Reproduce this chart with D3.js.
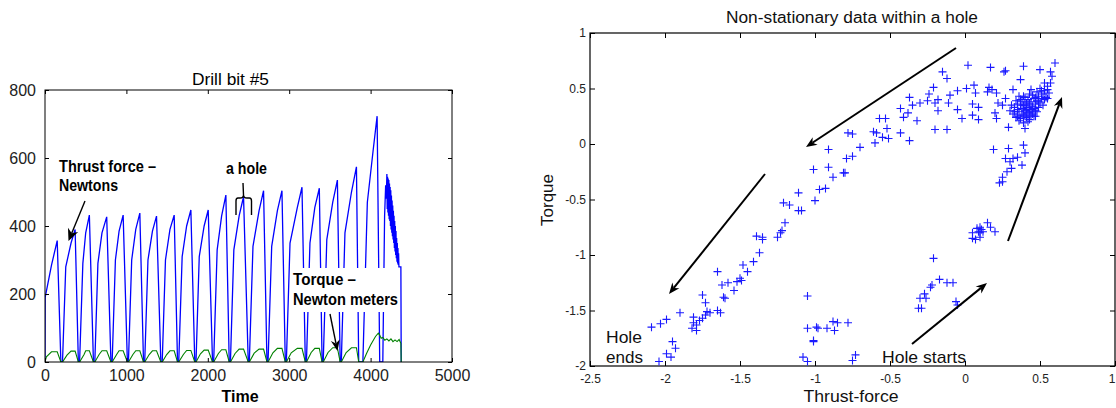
<!DOCTYPE html>
<html><head><meta charset="utf-8">
<script src="https://cdn.jsdelivr.net/npm/d3@7"></script>
<style>body{margin:0;background:#fff;} svg{display:block;font-family:"Liberation Sans",Arial,sans-serif;}</style>
</head><body><svg id="c" width="1116" height="408"></svg>
<script>
// ---------- Left chart data (Drill bit #5) ----------
const timeTicks = [0, 1000, 2000, 3000, 4000, 5000];
const forceTicks = [0, 200, 400, 600, 800];
// per-hole key readings of thrust force (Newtons)
const cycleStart = [0, 215, 425, 612, 825, 1025, 1225, 1440, 1643, 1855, 2072, 2278, 2510, 2740, 2965, 3212, 3418, 3640, 3905];
const cycleKneeT = [2, 255, 465, 650, 865, 1065, 1265, 1480, 1685, 1895, 2115, 2320, 2555, 2785, 3010, 3255, 3462, 3685, 3960];
const cycleKneeV = [190, 280, 290, 290, 300, 300, 300, 300, 310, 310, 330, 330, 340, 340, 350, 350, 360, 380, 470];
const cycleMidT  = [80, 320, 500, 700, 910, 1115, 1320, 1535, 1740, 1955, 2170, 2385, 2630, 2855, 3100, 3315, 3535, 3765, 4030];
const cycleMidV  = [285, 350, 380, 380, 385, 390, 385, 390, 400, 400, 430, 430, 445, 445, 455, 455, 470, 500, 620];
const cyclePeakT = [150, 370, 545, 758, 960, 1165, 1370, 1587, 1792, 2005, 2222, 2439, 2685, 2911, 3157, 3370, 3592, 3826, 4080];
const cyclePeakV = [357, 390, 432, 427, 432, 438, 429, 432, 447, 447, 491, 486, 504, 504, 514, 511, 535, 574, 723];
const cycleEnd   = [195, 410, 595, 810, 1012, 1210, 1423, 1628, 1840, 2058, 2263, 2497, 2727, 2952, 3198, 3404, 3626, 3854, 4112];
// last (noisy) hole
const thrustTailT = [4150, 4172, 4185, 4193, 4200, 4204, 4208, 4212, 4216, 4220, 4224, 4228, 4232, 4236, 4240, 4244, 4248, 4252, 4256, 4260, 4264, 4268, 4272, 4276, 4280, 4284, 4288, 4292, 4296, 4300, 4304, 4308, 4312, 4316, 4320, 4324, 4328, 4332, 4336, 4340, 4344, 4348, 4372, 4376];
const thrustTailV = [0, 430, 520, 480, 553, 450, 545, 440, 540, 430, 535, 420, 525, 415, 515, 400, 505, 390, 490, 380, 475, 370, 460, 360, 445, 350, 430, 335, 415, 325, 400, 315, 385, 305, 365, 295, 350, 290, 335, 285, 320, 280, 280, 0];
// torque (Newton meters) per hole
const torqueLow  = [15, 20, 22, 22, 22, 22, 22, 22, 22, 24, 25, 25, 26, 27, 27, 28, 28, 28];
const torqueHigh = [30, 32, 33, 33, 33, 33, 33, 33, 34, 35, 36, 38, 38, 40, 40, 40, 42, 42];
const torqueTailT = [3905, 3950, 4000, 4060, 4095, 4110, 4130, 4150, 4175, 4200, 4225, 4250, 4275, 4300, 4325, 4350, 4372, 4376];
const torqueTailV = [0, 25, 50, 75, 85, 80, 70, 72, 64, 68, 62, 68, 60, 65, 60, 66, 55, 0];

// ---------- Right chart data (thrust-force vs torque) ----------
const xTicksR = [-2.5, -2, -1.5, -1, -0.5, 0, 0.5, 1];
const yTicksR = [-2, -1.5, -1, -0.5, 0, 0.5, 1];
const scatterPoints = [
 [-2.09,-1.65],[-2.03,-1.62],[-1.99,-1.58],[-1.90,-1.52],[-1.95,-1.78],[-1.93,-1.84],[-1.99,-1.89],[-1.96,-1.92],[-2.04,-1.96],
 [-1.81,-1.56],[-1.81,-1.61],[-1.82,-1.66],[-1.79,-1.68],[-1.79,-1.63],[-1.77,-1.59],[-1.75,-1.57],[-1.73,-1.54],[-1.75,-1.36],
 [-1.73,-1.43],[-1.72,-1.51],[-1.70,-1.52],[-1.65,-1.50],[-1.63,-1.52],[-1.65,-1.15],[-1.62,-1.27],[-1.61,-1.38],[-1.60,-1.39],
 [-1.58,-1.25],[-1.54,-1.32],[-1.52,-1.24],[-1.50,-1.21],[-1.49,-1.23],[-1.48,-1.09],[-1.45,-1.15],[-1.41,-1.06],[-1.37,-0.98],
 [-1.39,-0.83],[-1.35,-0.84],[-1.35,-0.86],[-1.25,-0.84],[-1.23,-0.80],[-1.22,-0.78],[-1.20,-0.71],[-1.21,-0.53],[-1.17,-0.55],
 [-1.11,-0.44],[-1.11,-0.60],[-1.09,-0.60],[-1.00,-0.51],[-0.97,-0.41],[-0.93,-0.40],[-1.01,-0.23],[-0.91,-0.21],[-0.91,-0.05],
 [-0.88,-0.30],[-0.81,-0.26],[-0.80,-0.26],[-0.79,-0.13],[-0.78,0.10],
 [-1.05,-1.37],[-1.05,-1.66],[-0.99,-1.65],[-0.98,-1.66],[-1.01,-1.77],[-1.01,-1.78],[-0.92,-1.66],[-0.88,-1.60],[-0.87,-1.68],
 [-0.85,-1.61],[-0.78,-1.61],[-1.08,-1.92],[-1.05,-1.96],
 [-0.75,0.09],[-0.75,-0.11],[-0.70,-0.03],[-0.60,0.01],[-0.61,0.11],[-0.59,0.10],[-0.55,0.06],[-0.51,0.05],[-0.52,0.14],
 [-0.57,0.23],[-0.53,0.23],[-0.43,0.10],[-0.37,0.03],[-0.43,0.32],[-0.41,0.24],[-0.38,0.28],[-0.37,0.42],[-0.35,0.35],
 [-0.32,0.21],[-0.30,0.37],[-0.25,0.39],[-0.24,0.45],[-0.21,0.51],[-0.20,0.37],[-0.18,0.40],[-0.18,0.30],[-0.20,0.13],
 [-0.15,0.65],[-0.12,0.59],[-0.12,0.13],[-0.11,0.37],[-0.10,0.44],[-0.05,0.48],[-0.05,0.31],[-0.02,0.23],[0.01,0.50],
 [0.02,0.71],[0.06,0.53],[0.07,0.46],[0.05,0.36],[0.05,0.26],[0.09,0.33],[0.09,0.22],[0.15,0.47],[0.17,0.69],[0.16,0.51],
 [0.18,0.49],[0.21,0.46],[0.20,0.28],[0.21,0.23],[0.22,0.37],[0.25,0.35],[0.26,0.65],[0.27,0.66],[0.27,0.41],[0.29,0.15],
 [0.32,0.49],[0.37,0.58],[0.39,0.70],[0.40,0.14],[0.50,0.67],[0.53,0.55],[0.57,0.65],[0.60,0.73],[0.58,0.61],[0.55,0.49],[0.55,0.41],
 [0.30,0.30],[0.32,0.27],[0.33,0.33],[0.34,0.24],[0.35,0.36],[0.36,0.29],[0.36,0.21],[0.37,0.40],[0.38,0.32],[0.38,0.26],
 [0.39,0.35],[0.39,0.19],[0.40,0.30],[0.40,0.42],[0.41,0.24],[0.41,0.37],[0.42,0.28],[0.42,0.33],[0.43,0.45],[0.43,0.22],
 [0.44,0.31],[0.44,0.38],[0.45,0.27],[0.45,0.34],[0.46,0.41],[0.46,0.25],[0.47,0.36],[0.47,0.30],[0.48,0.47],[0.48,0.39],
 [0.49,0.33],[0.49,0.43],[0.50,0.37],[0.50,0.50],[0.51,0.41],[0.52,0.45],[0.52,0.35],[0.53,0.48],[0.54,0.42],[0.55,0.52],
 [0.56,0.46],[0.57,0.55],[0.35,0.31],[0.37,0.35],[0.39,0.27],[0.41,0.31],[0.43,0.36],[0.44,0.26],[0.46,0.32],[0.48,0.29],
 [0.40,0.35],[0.42,0.40],[0.38,0.38],[0.45,0.44],[0.47,0.42],[0.33,0.29],[0.31,0.35],[0.36,0.43],[0.34,0.39],[0.49,0.38],
 [0.51,0.48],[0.44,0.49],[0.40,0.25],[0.37,0.23],[0.42,0.20],[0.47,0.25],[0.35,0.25],[0.43,0.29],[0.39,0.43],[0.53,0.40],
 [0.19,-0.05],[0.29,-0.04],[0.39,-0.01],[0.40,-0.08],[0.35,-0.12],[0.32,-0.13],[0.27,-0.13],[0.30,-0.16],[0.31,-0.22],
 [0.38,-0.19],[0.28,-0.25],[0.25,-0.30],[0.25,-0.34],[0.23,-0.35],
 [0.08,-0.76],[0.10,-0.75],[0.15,-0.71],[0.17,-0.75],[0.20,-0.79],[0.05,-0.80],[0.10,-0.80],[0.12,-0.79],[0.05,-0.85],
 [0.07,-0.86],[0.10,-0.84],[0.11,-0.77],[0.09,-0.79],
 [-0.21,-1.03],[-0.17,-1.22],[-0.22,-1.27],[-0.23,-1.29],[-0.12,-1.25],[-0.08,-1.25],[-0.27,-1.35],[-0.30,-1.39],[-0.26,-1.39],
 [-0.31,-1.48],[-0.29,-1.48],[-0.06,-1.42],[-0.05,-1.45],[-0.73,-1.90],[-0.75,-1.95]
];

// ---------- Build ----------
const svg = d3.select("#c");
const FONT = '"Liberation Sans",Arial,sans-serif';

function arrow(g, x1, y1, x2, y2, sw, hl, hw) {
  const dx = x2 - x1, dy = y2 - y1, L = Math.hypot(dx, dy);
  const ux = dx / L, uy = dy / L, px = -uy, py = ux;
  const bx = x2 - ux * hl, by = y2 - uy * hl;
  const nx = x2 - ux * hl * 0.7, ny = y2 - uy * hl * 0.7;
  g.append("line").attr("x1", x1).attr("y1", y1).attr("x2", nx).attr("y2", ny)
    .attr("stroke", "#000").attr("stroke-width", sw);
  g.append("path").attr("d", `M${x2},${y2}L${bx + px * hw},${by + py * hw}L${nx},${ny}L${bx - px * hw},${by - py * hw}Z`)
    .attr("fill", "#000");
}

// ===== Left chart =====
const L = {l: 45, r: 452, t: 90, b: 362};
const x = d3.scaleLinear().domain([0, 5000]).range([L.l, L.r]);
const y = d3.scaleLinear().domain([0, 800]).range([L.b, L.t]);
const gl = svg.append("g");
gl.append("clipPath").attr("id", "clipL").append("rect")
  .attr("x", L.l).attr("y", L.t).attr("width", L.r - L.l).attr("height", L.b - L.t);

const thrust = [];
const torque = [];
for (let i = 0; i < cycleStart.length; i++) {
  thrust.push([cycleStart[i], 0], [cycleKneeT[i], cycleKneeV[i]], [cycleMidT[i], cycleMidV[i]],
              [cyclePeakT[i], cyclePeakV[i]], [cycleEnd[i], 0]);
  if (i < torqueLow.length) {
    torque.push([cycleStart[i], 0], [cycleKneeT[i] + 15, torqueLow[i]], [cycleMidT[i], torqueHigh[i]],
                [cyclePeakT[i], torqueHigh[i]], [cycleEnd[i], 0]);
  }
}
thrustTailT.forEach((t, i) => thrust.push([t, thrustTailV[i]]));
torqueTailT.forEach((t, i) => torque.push([t, torqueTailV[i]]));

const line = d3.line().x(d => x(d[0])).y(d => y(d[1]));
const plotL = gl.append("g").attr("clip-path", "url(#clipL)");
plotL.append("path").datum(thrust).attr("d", line).attr("fill", "none").attr("stroke", "#0000ff").attr("stroke-width", 1.3);
plotL.append("path").datum(torque).attr("d", line).attr("fill", "none").attr("stroke", "#008000").attr("stroke-width", 1.1);

// axes (inward ticks all sides)
const axL = gl.append("g").attr("transform", `translate(${L.l},0)`)
  .call(d3.axisLeft(y).tickValues(forceTicks).tickSize(-4).tickPadding(9).tickFormat(d3.format("d")));
const axB = gl.append("g").attr("transform", `translate(0,${L.b})`)
  .call(d3.axisBottom(x).tickValues(timeTicks).tickSize(-4).tickPadding(8).tickFormat(d3.format("d")));
gl.append("g").attr("transform", `translate(${L.r},0)`)
  .call(d3.axisRight(y).tickValues(forceTicks).tickSize(-4).tickFormat(""));
gl.append("g").attr("transform", `translate(0,${L.t})`)
  .call(d3.axisTop(x).tickValues(timeTicks).tickSize(-4).tickFormat(""));
gl.selectAll(".domain").remove();
gl.selectAll(".tick line").attr("stroke", "#000");
[axL, axB].forEach(a => a.selectAll("text").attr("font-size", 16).attr("font-family", FONT).attr("fill", "#222"));
gl.append("rect").attr("x", L.l).attr("y", L.t).attr("width", L.r - L.l).attr("height", L.b - L.t)
  .attr("fill", "none").attr("stroke", "#000").attr("stroke-width", 1);

gl.append("text").attr("x", 230.5).attr("y", 85).attr("text-anchor", "middle")
  .attr("font-size", 16).attr("textLength", 77).attr("lengthAdjust", "spacingAndGlyphs").text("Drill bit #5");
gl.append("text").attr("x", 240).attr("y", 402).attr("text-anchor", "middle")
  .attr("font-size", 16).attr("font-weight", "bold").text("Time");

// annotations
const bold = (t, xx, yy, w) => gl.append("text").attr("x", xx).attr("y", yy).attr("font-size", 16)
  .attr("font-weight", "bold").attr("textLength", w).attr("lengthAdjust", "spacingAndGlyphs").text(t);
bold("Thrust force \u2013", 59, 171.5, 97);
bold("Newtons", 59, 190.5, 59);
bold("a hole", 226, 174, 41);
arrow(gl, 85, 201, 68.5, 241, 1.4, 12, 5.5);
// brace for "a hole"
gl.append("path").attr("d", "M243,183 L243.5,195 Q243.5,198 240,198 L238,198 Q236,198 236,201 L236,215 M243.5,195 Q243.5,198 247,198 L249.5,198 Q251.5,198 251.5,201 L251.5,215")
  .attr("fill", "none").attr("stroke", "#000").attr("stroke-width", 1.4);
// Torque label with white background
gl.append("rect").attr("x", 291).attr("y", 268).attr("width", 108).attr("height", 44).attr("fill", "#fff");
bold("Torque \u2013", 293, 285, 63);
bold("Newton meters", 293, 305, 105);
arrow(gl, 330, 314, 337.5, 351, 1.4, 11, 4.5);

// ===== Right chart =====
const R = {l: 590, r: 1115, t: 33, b: 366};
const x2 = d3.scaleLinear().domain([-2.5, 1]).range([R.l, R.r]);
const y2 = d3.scaleLinear().domain([-2, 1]).range([R.b, R.t]);
const gr = svg.append("g");
const fmt = d => (d === 0 ? "0" : String(d));
const ayR = gr.append("g").attr("transform", `translate(${R.l},0)`)
  .call(d3.axisLeft(y2).tickValues(yTicksR).tickSize(-5).tickPadding(4).tickFormat(fmt));
const axR = gr.append("g").attr("transform", `translate(0,${R.b})`)
  .call(d3.axisBottom(x2).tickValues(xTicksR).tickSize(-5).tickPadding(8).tickFormat(fmt));
gr.append("g").attr("transform", `translate(${R.r},0)`)
  .call(d3.axisRight(y2).tickValues(yTicksR).tickSize(-5).tickFormat(""));
gr.append("g").attr("transform", `translate(0,${R.t})`)
  .call(d3.axisTop(x2).tickValues(xTicksR).tickSize(-5).tickFormat(""));
gr.selectAll(".domain").remove();
gr.selectAll(".tick line").attr("stroke", "#000");
[ayR, axR].forEach(a => a.selectAll("text").attr("font-size", 12).attr("font-family", FONT).attr("fill", "#222"));
// keep the last x label ("1") inside the window
axR.selectAll(".tick text").filter(d => d === 1).attr("text-anchor", "end").attr("x", 0);
gr.append("rect").attr("x", R.l).attr("y", R.t).attr("width", R.r - R.l).attr("height", R.b - R.t)
  .attr("fill", "none").attr("stroke", "#000").attr("stroke-width", 1.2);

// + markers
const pts = gr.append("g").attr("stroke", "#1a1aff").attr("stroke-width", 1.1).attr("fill", "none");
pts.selectAll("path").data(scatterPoints).join("path")
  .attr("d", d => { const cx = x2(d[0]), cy = y2(d[1]); return `M${cx - 4},${cy}H${cx + 4}M${cx},${cy - 4}V${cy + 4}`; });

gr.append("text").attr("x", 852).attr("y", 22.5).attr("text-anchor", "middle").attr("font-size", 16)
  .attr("textLength", 252).attr("lengthAdjust", "spacingAndGlyphs").attr("fill", "#111").text("Non-stationary data within a hole");
gr.append("text").attr("x", 851).attr("y", 401.5).attr("text-anchor", "middle").attr("font-size", 17)
  .attr("textLength", 95).attr("lengthAdjust", "spacingAndGlyphs").attr("fill", "#111").text("Thrust-force");
gr.append("text").attr("transform", "translate(553,200) rotate(-90)").attr("text-anchor", "middle")
  .attr("font-size", 17).attr("fill", "#111").text("Torque");
const reg = (t, xx, yy, w) => gr.append("text").attr("x", xx).attr("y", yy).attr("font-size", 17)
  .attr("textLength", w).attr("lengthAdjust", "spacingAndGlyphs").attr("fill", "#111").text(t);
reg("Hole", 606, 342.5, 36);
reg("ends", 606, 363, 37);
reg("Hole starts", 882, 362.5, 84);

arrow(gr, 956, 48, 806, 147, 2, 11, 4.5);
arrow(gr, 765, 174, 669, 294, 2, 11, 4.5);
arrow(gr, 1008, 241, 1062, 97, 2, 11, 4.5);
arrow(gr, 912, 344, 987, 283, 2, 11, 4.5);
</script></body></html>
